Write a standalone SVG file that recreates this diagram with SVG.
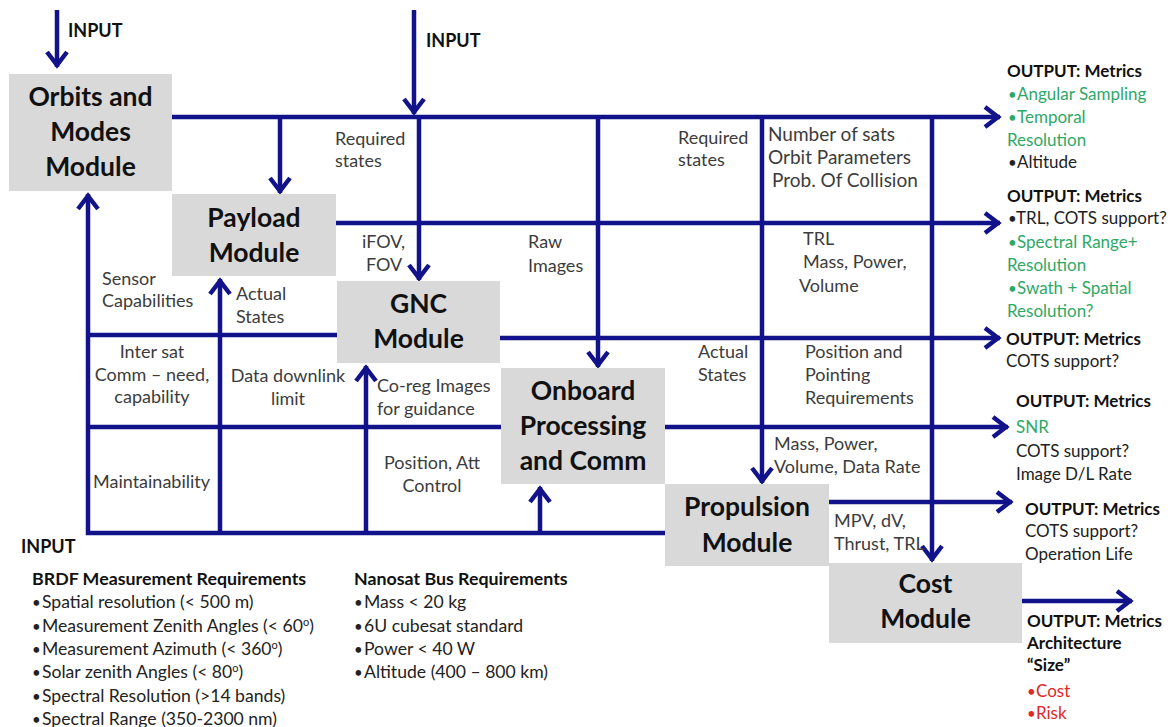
<svg xmlns="http://www.w3.org/2000/svg" width="1175" height="727" viewBox="0 0 1175 727">
<defs>
<marker id="arr" markerUnits="userSpaceOnUse" viewBox="-22 -14 26 28" markerWidth="26" markerHeight="28" refX="0" refY="0" orient="auto">
<path d="M-15,-10 L-2,0 L-15,10" fill="none" stroke="#12128a" stroke-width="4.5" stroke-linejoin="miter"/>
</marker>
<style>
.ln{fill:none;stroke:#12128a;stroke-width:4.5}
.ar{marker-end:url(#arr)}
.box{fill:#d9d9d9}
.mt{font-family:Lato,'Liberation Sans',sans-serif;font-weight:bold;font-size:26.5px;fill:#111;text-anchor:middle}
.lb{font-family:Lato,'Liberation Sans',sans-serif;font-size:18px;fill:#3c3c3c}
.lb2{font-size:19px}
.c{text-anchor:middle}
.hd{font-family:Lato,'Liberation Sans',sans-serif;font-size:17px;font-weight:bold;fill:#111}
.hd2{font-size:17.8px}
.tx{font-family:Lato,'Liberation Sans',sans-serif;font-size:17px;fill:#222}
.tx2{font-size:17.6px}
.b{font-size:15px}
.g{fill:#2fa866}
.r{fill:#e02828}
.in{font-family:Lato,'Liberation Sans',sans-serif;font-size:18px;font-weight:bold;fill:#111}
</style>
</defs>
<rect width="1175" height="727" fill="#fff"/>
<g id="connectors">
<path class="ln ar" d="M57,10 V67"/>
<path class="ln ar" d="M414,10 V114"/>
<path class="ln ar" d="M172,117 H1000"/>
<path class="ln ar" d="M280,117 V193"/>
<path class="ln ar" d="M419,117 V280"/>
<path class="ln ar" d="M598,117 V367"/>
<path class="ln ar" d="M762,117 V483"/>
<path class="ln ar" d="M932,117 V561"/>
<path class="ln ar" d="M336,223 H1000"/>
<path class="ln" d="M338,335 H88"/>
<path class="ln ar" d="M500,338 H1000"/>
<path class="ln" d="M501,427 H88"/>
<path class="ln ar" d="M665,427 H1008"/>
<path class="ln ar" d="M665,533 H88 V194"/>
<path class="ln ar" d="M220,533 V279"/>
<path class="ln ar" d="M366,533 V366"/>
<path class="ln ar" d="M540,533 V487"/>
<path class="ln ar" d="M829,502 H1012"/>
<path class="ln ar" d="M1022,601 H1132"/>
</g>
<g id="orbits">
<rect class="box" x="9" y="74" width="163" height="117"/>
<text class="mt" x="90.5" y="106">Orbits and</text>
<text class="mt" x="90.5" y="141">Modes</text>
<text class="mt" x="90.5" y="176">Module</text>
</g>
<g id="payload">
<rect class="box" x="172" y="194" width="164" height="82"/>
<text class="mt" x="254" y="227">Payload</text>
<text class="mt" x="254" y="262">Module</text>
</g>
<g id="gnc">
<rect class="box" x="337" y="281" width="163" height="82"/>
<text class="mt" x="418.5" y="313">GNC</text>
<text class="mt" x="418.5" y="348">Module</text>
</g>
<g id="onboard">
<rect class="box" x="501" y="368" width="164" height="116"/>
<text class="mt" x="583" y="400">Onboard</text>
<text class="mt" x="583" y="435">Processing</text>
<text class="mt" x="583" y="470">and Comm</text>
</g>
<g id="propulsion">
<rect class="box" x="665" y="484" width="164" height="82"/>
<text class="mt" x="747" y="516">Propulsion</text>
<text class="mt" x="747" y="552">Module</text>
</g>
<g id="cost">
<rect class="box" x="829" y="563" width="193" height="80"/>
<text class="mt" x="925.5" y="593">Cost</text>
<text class="mt" x="925.5" y="628">Module</text>
</g>
<g id="labels">
<text class="in" x="68" y="37">INPUT</text>
<text class="in" x="426" y="47">INPUT</text>
<text class="lb" x="335" y="145">Required</text>
<text class="lb" x="335" y="167">states</text>
<text class="lb" x="678" y="144">Required</text>
<text class="lb" x="678" y="166">states</text>
<text class="lb lb2" x="768" y="141">Number of sats</text>
<text class="lb lb2" x="768" y="164">Orbit Parameters</text>
<text class="lb lb2" x="772" y="187">Prob. Of Collision</text>
<text class="lb" x="362" y="248">iFOV,</text>
<text class="lb" x="366" y="271">FOV</text>
<text class="lb" x="528" y="248">Raw</text>
<text class="lb" x="528" y="272">Images</text>
<text class="lb" x="803" y="245">TRL</text>
<text class="lb" x="803" y="268">Mass, Power,</text>
<text class="lb" x="799" y="292">Volume</text>
<text class="lb" x="102" y="285">Sensor</text>
<text class="lb" x="102" y="307">Capabilities</text>
<text class="lb" x="236" y="300">Actual</text>
<text class="lb" x="236" y="323">States</text>
<text class="lb c" x="152" y="358">Inter sat</text>
<text class="lb c" x="152" y="381">Comm – need,</text>
<text class="lb c" x="152" y="403">capability</text>
<text class="lb c" x="288" y="382">Data downlink</text>
<text class="lb c" x="288" y="405">limit</text>
<text class="lb" x="377" y="392">Co-reg Images</text>
<text class="lb" x="377" y="415">for guidance</text>
<text class="lb" x="698" y="358">Actual</text>
<text class="lb" x="698" y="381">States</text>
<text class="lb" x="805" y="358">Position and</text>
<text class="lb" x="805" y="381">Pointing</text>
<text class="lb" x="805" y="404">Requirements</text>
<text class="lb" x="93" y="488">Maintainability</text>
<text class="lb c" x="432" y="469">Position, Att</text>
<text class="lb c" x="432" y="492">Control</text>
<text class="lb" x="774" y="450">Mass, Power,</text>
<text class="lb" x="774" y="473">Volume, Data Rate</text>
<text class="lb" x="834" y="527">MPV, dV,</text>
<text class="lb" x="834" y="550">Thrust, TRL</text>
</g>
<g id="outputs">
<text class="hd" x="1007" y="77">OUTPUT: Metrics</text>
<text class="tx g" x="1008" y="100"><tspan class="b">•</tspan><tspan x="1017">Angular Sampling</tspan></text>
<text class="tx g" x="1008" y="123"><tspan class="b">•</tspan><tspan x="1017">Temporal</tspan></text>
<text class="tx g" x="1007" y="146">Resolution</text>
<text class="tx" x="1008" y="168"><tspan class="b">•</tspan><tspan x="1017">Altitude</tspan></text>
<text class="hd" x="1007" y="202">OUTPUT: Metrics</text>
<text class="tx" x="1008" y="224"><tspan class="b">•</tspan><tspan x="1016">TRL, COTS support?</tspan></text>
<text class="tx g" x="1008" y="248"><tspan class="b">•</tspan><tspan x="1017">Spectral  Range+</tspan></text>
<text class="tx g" x="1007" y="271">Resolution</text>
<text class="tx g" x="1008" y="294"><tspan class="b">•</tspan><tspan x="1017">Swath + Spatial</tspan></text>
<text class="tx g" x="1007" y="317">Resolution?</text>
<text class="hd" x="1006" y="345">OUTPUT: Metrics</text>
<text class="tx" x="1006" y="367">COTS support?</text>
<text class="hd" x="1016" y="407">OUTPUT: Metrics</text>
<text class="tx g" x="1016" y="433">SNR</text>
<text class="tx" x="1016" y="457">COTS support?</text>
<text class="tx" x="1016" y="480">Image D/L Rate</text>
<text class="hd" x="1025" y="515">OUTPUT: Metrics</text>
<text class="tx" x="1025" y="537">COTS support?</text>
<text class="tx" x="1025" y="560">Operation Life</text>
<text class="hd" x="1027" y="627">OUTPUT: Metrics</text>
<text class="hd" x="1027" y="649">Architecture</text>
<text class="hd" x="1027" y="671">“Size”</text>
<text class="tx r" x="1027" y="697"><tspan class="b">•</tspan><tspan x="1036">Cost</tspan></text>
<text class="tx r" x="1027" y="719"><tspan class="b">•</tspan><tspan x="1036">Risk</tspan></text>
</g>
<g id="inputs">
<text class="in" x="21" y="553">INPUT</text>
<text class="hd hd2" x="32" y="585">BRDF Measurement Requirements</text>
<text class="tx tx2" x="32" y="608"><tspan class="b">•</tspan><tspan x="42">Spatial resolution (&lt; 500 m)</tspan></text>
<text class="tx tx2" x="32" y="632"><tspan class="b">•</tspan><tspan x="42">Measurement Zenith Angles (&lt; 60<tspan dy="-6" font-size="11">o</tspan><tspan dy="6">)</tspan></tspan></text>
<text class="tx tx2" x="32" y="655"><tspan class="b">•</tspan><tspan x="42">Measurement Azimuth (&lt; 360<tspan dy="-6" font-size="11">o</tspan><tspan dy="6">)</tspan></tspan></text>
<text class="tx tx2" x="32" y="678"><tspan class="b">•</tspan><tspan x="42">Solar zenith Angles (&lt; 80<tspan dy="-6" font-size="11">o</tspan><tspan dy="6">)</tspan></tspan></text>
<text class="tx tx2" x="32" y="702"><tspan class="b">•</tspan><tspan x="42">Spectral Resolution (&gt;14 bands)</tspan></text>
<text class="tx tx2" x="32" y="725"><tspan class="b">•</tspan><tspan x="42">Spectral Range (350-2300 nm)</tspan></text>
<text class="hd hd2" x="354" y="585">Nanosat Bus Requirements</text>
<text class="tx tx2" x="354" y="608"><tspan class="b">•</tspan><tspan x="364">Mass &lt; 20 kg</tspan></text>
<text class="tx tx2" x="354" y="632"><tspan class="b">•</tspan><tspan x="364">6U cubesat standard</tspan></text>
<text class="tx tx2" x="354" y="655"><tspan class="b">•</tspan><tspan x="364">Power &lt; 40 W</tspan></text>
<text class="tx tx2" x="354" y="678"><tspan class="b">•</tspan><tspan x="364">Altitude (400 – 800 km)</tspan></text>
</g>
</svg>
